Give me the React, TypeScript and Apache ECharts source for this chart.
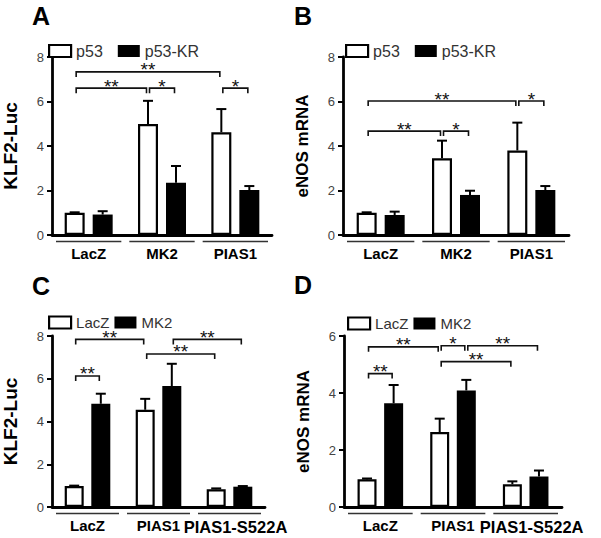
import React, { useEffect, useRef } from 'react';
import * as echarts from 'echarts';

// ---------- data ----------
const categoriesAB = ['LacZ', 'MK2', 'PIAS1'];
const categoriesCD = ['LacZ', 'PIAS1', 'PIAS1-S522A'];
const seriesNamesAB = ['p53', 'p53-KR'];
const seriesNamesCD = ['LacZ', 'MK2'];

// Panel A: KLF2-Luc
const aP53 = [1.0, 4.99, 4.62];
const aP53Top = [1.02, 6.03, 5.66];
const aKR = [0.92, 2.35, 2.02];
const aKRTop = [1.07, 3.1, 2.2];

// Panel B: eNOS mRNA
const bP53 = [1.0, 3.45, 3.8];
const bP53Top = [1.02, 4.24, 5.05];
const bKR = [0.9, 1.8, 2.02];
const bKRTop = [1.05, 1.99, 2.2];

// Panel C: KLF2-Luc
const cLacZ = [0.98, 4.55, 0.83];
const cLacZTop = [1.0, 5.06, 0.87];
const cMK2 = [4.83, 5.66, 0.95];
const cMK2Top = [5.3, 6.7, 0.98];

// Panel D: eNOS mRNA
const dLacZ = [0.97, 2.63, 0.8];
const dLacZTop = [1.0, 3.1, 0.9];
const dMK2 = [3.64, 4.09, 1.07];
const dMK2Top = [4.28, 4.46, 1.28];

// brackets: [fromCategory, fromSeries, toCategory, toSeries, level]
const aBrackets = [[0, 0, 2, 0, 7.33], [0, 0, 1, 0, 6.6], [1, 0, 1, 1, 6.6], [2, 0, 2, 1, 6.6]];
const aStars = ['**', '**', '*', '*'];
const bBrackets = [[0, 0, 2, 0, 6.02], [2, 0, 2, 1, 6.02], [0, 0, 1, 0, 4.67], [1, 0, 1, 1, 4.67]];
const bStars = ['**', '*', '**', '*'];
const cBrackets = [[0, 0, 1, 0, 7.84], [1, 1, 2, 1, 7.84], [1, 0, 2, 0, 7.16], [0, 0, 0, 1, 6.13]];
const cStars = ['**', '**', '**', '**'];
const dBrackets = [[0, 0, 1, 0, 5.62], [1, 0, 1, 1, 5.66], [1, 1, 2, 1, 5.66], [1, 0, 2, 0, 5.1], [0, 0, 0, 1, 4.68]];
const dStars = ['**', '*', '**', '**', '**'];

const yMaxes = [8, 8, 8, 6];
const yNames = ['KLF2-Luc', 'eNOS mRNA', 'KLF2-Luc', 'eNOS mRNA'];
const panelLetters = ['A', 'B', 'C', 'D'];

// ---------- styles ----------
const FONT = '"Liberation Sans", Arial, Helvetica, sans-serif';
const grids = [
  { left: 47, top: 57, width: 225, height: 178 },
  { left: 343, top: 57, width: 226, height: 178 },
  { left: 47, top: 336, width: 218, height: 171 },
  { left: 344, top: 336, width: 218, height: 171 },
];
const barWidths = [20, 20, 19, 19];
const BAR_GAP = 0.4;
const yNameSizes = [19, 17, 19, 17];
const letterPos = [[32, 15], [294, 15], [32, 285], [294, 284]];
const legendPos = [[43, 38], [340, 38], [43, 310], [342, 311]];

export default function App() {
  const ref = useRef<HTMLDivElement>(null);
  useEffect(() => {
    if (!ref.current) return;
    const chart = echarts.init(ref.current, undefined, { renderer: 'svg' });

    const panels = [
      { cats: categoriesAB, names: seriesNamesAB, v: [aP53, aKR], t: [aP53Top, aKRTop], br: aBrackets, st: aStars },
      { cats: categoriesAB, names: seriesNamesAB, v: [bP53, bKR], t: [bP53Top, bKRTop], br: bBrackets, st: bStars },
      { cats: categoriesCD, names: seriesNamesCD, v: [cLacZ, cMK2], t: [cLacZTop, cMK2Top], br: cBrackets, st: cStars },
      { cats: categoriesCD, names: seriesNamesCD, v: [dLacZ, dMK2], t: [dLacZTop, dMK2Top], br: dBrackets, st: dStars },
    ];

    const series: any[] = [];
    panels.forEach((p, g) => {
      const bw = barWidths[g];
      const off = (bw * (1 + BAR_GAP)) / 2;
      p.names.forEach((nm, s) => {
        series.push({
          type: 'bar',
          name: nm,
          xAxisIndex: g,
          yAxisIndex: g,
          data: p.v[s],
          barWidth: bw,
          barGap: BAR_GAP * 100 + '%',
          itemStyle: s === 0 ? { color: '#fff', borderColor: '#000', borderWidth: 2.2 } : { color: '#000' },
          z: 2,
        });
      });
      p.names.forEach((nm, s) => {
        const vals = p.v[s];
        const tops = p.t[s];
        series.push({
          type: 'custom',
          name: nm + ' err ' + g,
          xAxisIndex: g,
          yAxisIndex: g,
          clip: false,
          silent: true,
          z: 4,
          data: vals.map((v, i) => [i, v, tops[i]]),
          encode: { x: 0, y: 1 },
          renderItem: (params: any, api: any) => {
            const base = api.coord([api.value(0), api.value(1)]);
            const top = api.coord([api.value(0), api.value(2)]);
            const x = base[0] + (s === 0 ? -off : off);
            return {
              type: 'group',
              children: [
                { type: 'line', shape: { x1: x, y1: base[1], x2: x, y2: top[1] }, style: { stroke: '#000', lineWidth: 2 } },
                { type: 'line', shape: { x1: x - 5, y1: top[1], x2: x + 5, y2: top[1] }, style: { stroke: '#000', lineWidth: 2 } },
              ],
            };
          },
        });
      });
      // group underlines
      series.push({
        type: 'custom',
        name: 'underline ' + g,
        xAxisIndex: g,
        yAxisIndex: g,
        clip: false,
        silent: true,
        data: p.cats.map((_, i) => [i, 0]),
        encode: { x: 0, y: 1 },
        renderItem: (params: any, api: any) => {
          const c = api.coord([api.value(0), 0]);
          const band = api.size([1, 0])[0];
          return {
            type: 'line',
            shape: { x1: c[0] - band / 2 + 4, y1: c[1] + 6.5, x2: c[0] + band / 2 - 4, y2: c[1] + 6.5 },
            style: { stroke: '#333', lineWidth: 1.5 },
          };
        },
      });
      // significance brackets
      series.push({
        type: 'custom',
        name: 'brackets ' + g,
        xAxisIndex: g,
        yAxisIndex: g,
        clip: false,
        silent: true,
        z: 6,
        data: p.br.map((b) => b.slice()),
        encode: { x: 0, y: 4 },
        renderItem: (params: any, api: any) => {
          const lvl = api.value(4);
          const p1 = api.coord([api.value(0), lvl]);
          const p2 = api.coord([api.value(2), lvl]);
          const x1 = p1[0] + (api.value(1) ? off : -off) + 1.5;
          const x2 = p2[0] + (api.value(3) ? off : -off) - 1.5;
          const y = p1[1];
          const label = p.st[params.dataIndex];
          return {
            type: 'group',
            children: [
              {
                type: 'polyline',
                shape: { points: [[x1, y + 5], [x1, y], [x2, y], [x2, y + 5]] },
                style: { stroke: '#111', lineWidth: 1.6, fill: null },
              },
              {
                type: 'text',
                style: {
                  text: label,
                  x: (x1 + x2) / 2,
                  y: y - 2,
                  align: 'center',
                  verticalAlign: 'middle',
                  textAlign: 'center',
                  textVerticalAlign: 'middle',
                  fontSize: 19,
                  fontFamily: FONT,
                  fill: '#111',
                },
              },
            ],
          };
        },
      });
    });

    const option: any = {
      animation: false,
      backgroundColor: '#fff',
      grid: grids.map((g) => ({ ...g, containLabel: false })),
      xAxis: panels.map((p, g) => ({
        type: 'category',
        gridIndex: g,
        data: p.cats,
        axisLine: { lineStyle: { color: '#000', width: 2.8 } },
        axisTick: { show: false },
        axisLabel: {
          interval: 0,
          margin: 11,
          color: '#000',
          fontSize: 15,
          fontWeight: 'bold',
          fontFamily: FONT,
          formatter: (v: string) => (v === 'PIAS1-S522A' ? '{w|' + v + '}' : v),
          rich: {
            w: { fontSize: 16.5, fontWeight: 'bold', fontFamily: FONT, color: '#000', padding: [0, 0, 0, 12] },
          },
        },
        splitLine: { show: false },
      })),
      yAxis: panels.map((p, g) => ({
        type: 'value',
        gridIndex: g,
        min: 0,
        max: yMaxes[g],
        interval: 2,
        name: yNames[g],
        nameLocation: 'middle',
        nameGap: 32,
        nameTextStyle: { color: '#000', fontSize: yNameSizes[g], fontWeight: 'bold', fontFamily: FONT },
        axisLine: { show: true, lineStyle: { color: '#000', width: 2.8 } },
        axisTick: { show: true, length: 5, lineStyle: { color: '#000', width: 2 } },
        axisLabel: { margin: 8, color: '#444', fontSize: 13, fontFamily: FONT },
        splitLine: { show: false },
      })),
      legend: panels.map((p, g) => ({
        left: legendPos[g][0],
        top: legendPos[g][1],
        orient: 'horizontal',
        itemWidth: 22,
        itemHeight: 12,
        itemGap: g < 2 ? 15 : 5,
        icon: 'rect',
        selectedMode: false,
        textStyle: { color: '#333', fontSize: g < 2 ? 16 : 15, fontFamily: FONT },
        data: [
          { name: p.names[0], itemStyle: { color: '#fff', borderColor: '#000', borderWidth: 2.2 } },
          { name: p.names[1], itemStyle: { color: '#000', borderWidth: 0 } },
        ],
      })),
      graphic: panelLetters.map((L, i) => ({
        type: 'text',
        left: letterPos[i][0],
        top: letterPos[i][1] - 12,
        style: { text: L, font: 'bold 25px ' + FONT, fill: '#000' },
      })),
      series,
    };
    chart.setOption(option);
    return () => chart.dispose();
  }, []);
  return (
    <div
      ref={ref}
      style={{ position: 'fixed', left: 0, top: 0, width: 601, height: 538, background: '#fff' }}
    />
  );
}
